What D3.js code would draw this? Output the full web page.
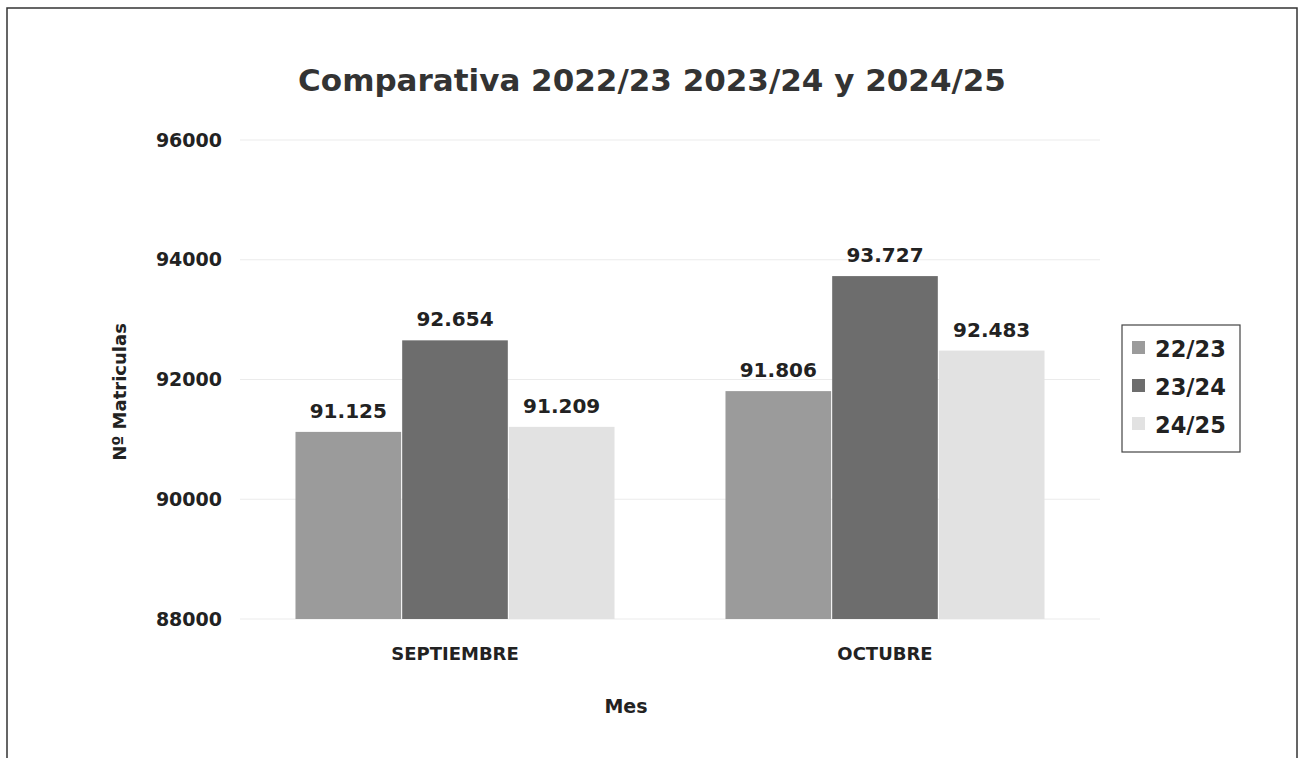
<!DOCTYPE html>
<html>
<head>
<meta charset="utf-8">
<script src="https://cdn.jsdelivr.net/npm/d3@7"></script>
<style>
  body { margin: 0; background: #fff; }
  text { fill: #222; font-family: "DejaVu Sans", Verdana, sans-serif; font-weight: bold; }
</style>
</head>
<body>
<div id="chart"></div>
<script>
// data
var months = ["SEPTIEMBRE", "OCTUBRE"];
var seasons = ["22/23", "23/24", "24/25"];
var v2223 = [91125, 91806];
var v2324 = [92654, 93727];
var v2425 = [91209, 92483];
var yTicks = [88000, 90000, 92000, 94000, 96000];
var colors = ["#9b9b9b", "#6d6d6d", "#e2e2e2"];

var series = [v2223, v2324, v2425];

var svgWidth = 1304, svgHeight = 758;
var svg = d3.select("#chart").append("svg")
    .attr("width", svgWidth)
    .attr("height", svgHeight);

// outer frame
svg.append("rect")
    .attr("x", 7).attr("y", 8)
    .attr("width", 1290).attr("height", 760)
    .attr("fill", "none").attr("stroke", "#333").attr("stroke-width", 1.5);

var plot = { left: 240, right: 1100, top: 140, bottom: 619 };

var x0 = d3.scaleBand().domain(months).range([plot.left, plot.right]);
var x1 = d3.scaleBand().domain(seasons).range([0, x0.bandwidth()]).paddingInner(0.01).paddingOuter(0.52);
var y = d3.scaleLinear().domain([88000, 96000]).range([plot.bottom, plot.top]);

// grid lines
svg.append("g").selectAll("line")
    .data(yTicks)
    .enter().append("line")
    .attr("x1", plot.left).attr("x2", plot.right)
    .attr("y1", d => y(d)).attr("y2", d => y(d))
    .attr("stroke", "#ebebeb").attr("stroke-width", 1.2);

// y axis labels
var yAxis = d3.axisLeft(y).tickValues(yTicks).tickSize(0).tickPadding(18).tickFormat(d3.format("d"));
var gy = svg.append("g").attr("transform", `translate(${plot.left},0)`).call(yAxis);
gy.select(".domain").remove();
gy.selectAll("text")
    .attr("font-family", "DejaVu Sans, Verdana, sans-serif")
    .attr("font-weight", "bold").attr("font-size", 19).attr("fill", "#222");

// x axis labels
var xAxis = d3.axisBottom(x0).tickSize(0).tickPadding(28);
var gx = svg.append("g").attr("transform", `translate(0,${plot.bottom})`).call(xAxis);
gx.select(".domain").remove();
gx.selectAll("text")
    .attr("font-family", "DejaVu Sans, Verdana, sans-serif")
    .attr("font-weight", "bold").attr("font-size", 18).attr("fill", "#222");

// bars
var fmt = d3.formatLocale({ decimal: ",", thousands: ".", grouping: [3], currency: ["", "€"] }).format(",d");

var groups = svg.append("g").selectAll("g")
    .data(months)
    .enter().append("g")
    .attr("transform", d => `translate(${x0(d)},0)`);

groups.selectAll("rect")
    .data((m, i) => seasons.map((s, k) => ({ s: s, v: series[k][i], k: k })))
    .enter().append("rect")
    .attr("x", d => x1(d.s))
    .attr("width", x1.bandwidth())
    .attr("y", d => y(d.v))
    .attr("height", d => plot.bottom - y(d.v))
    .attr("fill", d => colors[d.k]);

groups.selectAll("text")
    .data((m, i) => seasons.map((s, k) => ({ s: s, v: series[k][i], k: k })))
    .enter().append("text")
    .attr("x", d => x1(d.s) + x1.bandwidth() / 2)
    .attr("y", d => y(d.v) - 14)
    .attr("text-anchor", "middle")
    .attr("font-size", 20)
    .text(d => fmt(d.v));

// title
svg.append("text")
    .attr("x", 652).attr("y", 91)
    .attr("text-anchor", "middle")
    .attr("font-size", 31).style("fill", "#333")
    .text("Comparativa 2022/23 2023/24 y 2024/25");

// axis titles
svg.append("text")
    .attr("transform", "translate(126,392) rotate(-90)")
    .attr("text-anchor", "middle")
    .attr("font-size", 18)
    .text("Nº Matriculas");

svg.append("text")
    .attr("x", 626).attr("y", 713)
    .attr("text-anchor", "middle")
    .attr("font-size", 19)
    .text("Mes");

// legend
var legend = svg.append("g").attr("transform", "translate(1122,325)");
legend.append("rect")
    .attr("width", 118).attr("height", 127)
    .attr("fill", "#fff").attr("stroke", "#444").attr("stroke-width", 1.2);
var items = legend.selectAll("g.item")
    .data(seasons)
    .enter().append("g")
    .attr("class", "item")
    .attr("transform", (d, i) => `translate(10,${22 + i * 38})`);
items.append("rect")
    .attr("x", 0).attr("y", -6)
    .attr("width", 13).attr("height", 13)
    .attr("fill", (d, i) => colors[i]);
items.append("text")
    .attr("x", 23).attr("y", 10)
    .attr("font-size", 22.5)
    .text(d => d);
</script>
</body>
</html>
